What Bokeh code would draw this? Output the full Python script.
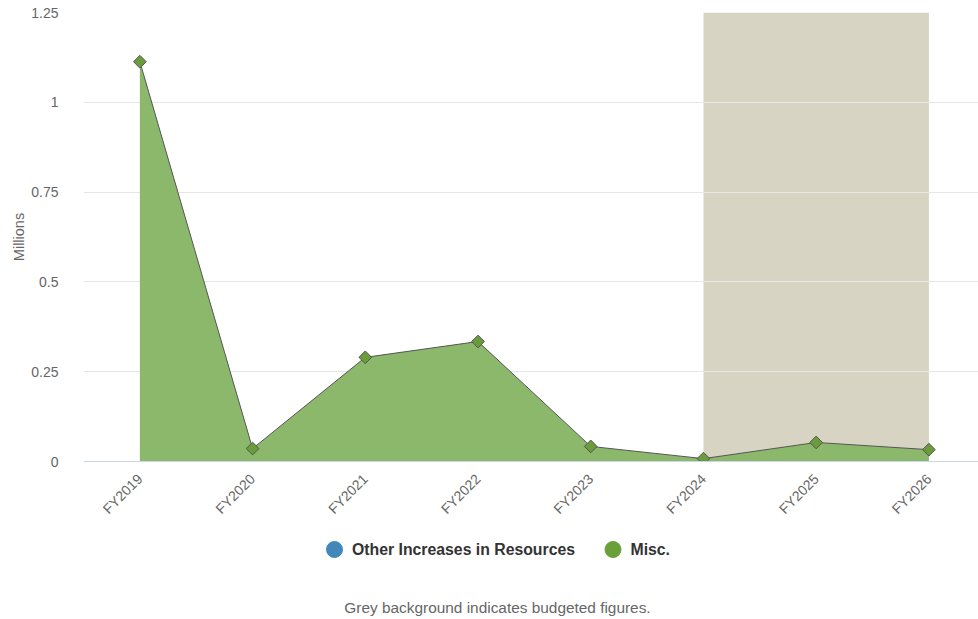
from bokeh.plotting import figure
from bokeh.layouts import column
from bokeh.models import ColumnDataSource, FixedTicker, Range1d
from bokeh.core.properties import value
from bokeh.embed import file_html
from bokeh.resources import INLINE

# ---- data ----
categories = ["FY2019", "FY2020", "FY2021", "FY2022", "FY2023", "FY2024", "FY2025", "FY2026"]
other_increases = [0, 0, 0, 0, 0, 0, 0, 0]
misc = [1.113, 0.036, 0.29, 0.334, 0.042, 0.008, 0.053, 0.033]
budget_start = "FY2024"
budget_end = "FY2026"
y_ticks = [0, 0.25, 0.5, 0.75, 1, 1.25]
y_tick_labels = ["0", "0.25", "0.5", "0.75", "1", "1.25"]
series_names = ["Other Increases in Resources", "Misc."]
series_colors = ["#4287b9", "#6a9f3a"]
caption = "Grey background indicates budgeted figures."

FONT = "Liberation Sans"

idx = list(range(len(categories)))

p = figure(x_range=Range1d(-0.5, 7.44), y_range=(0, 1.25),
           frame_width=895, frame_height=449,
           min_border_left=83, min_border_right=0, min_border_top=12, min_border_bottom=69,
           output_backend="svg", toolbar_location=None)
p.outline_line_color = None
p.background_fill_color = "white"

# budget band (behind the grid lines)
p.quad(left=[categories.index(budget_start)], right=[categories.index(budget_end)],
       bottom=[0], top=[1.25], fill_color="#d8d4c4", line_color=None, level="image")

base = other_increases
top = [b + m for b, m in zip(base, misc)]
src = ColumnDataSource(dict(x=idx, base=base, top=top))
p.varea(x="x", y1="base", y2="top", source=src, fill_color="#8cb86b", fill_alpha=1.0)
p.line(x="x", y="top", source=src, line_color="#555555", line_width=1)
p.scatter(x="x", y="top", source=src, marker="square", size=9, angle=0.785398,
          fill_color="#6a9c3c", line_color="#555555", line_width=1)

# axes
p.yaxis.ticker = FixedTicker(ticks=y_ticks)
p.yaxis.major_label_overrides = {t: l for t, l in zip(y_ticks, y_tick_labels)}
p.yaxis.axis_line_color = None
p.yaxis.major_tick_line_color = None
p.yaxis.minor_tick_line_color = None
p.yaxis.major_label_text_font = FONT
p.yaxis.major_label_text_font_size = "14px"
p.yaxis.major_label_text_color = "#666666"
p.yaxis.major_label_standoff = 19
p.yaxis.axis_label = "Millions"
p.yaxis.axis_label_text_font = FONT
p.yaxis.axis_label_text_font_size = "14.5px"
p.yaxis.axis_label_text_font_style = "normal"
p.yaxis.axis_label_text_color = "#666666"
p.yaxis.axis_label_standoff = 1

p.xaxis.ticker = FixedTicker(ticks=idx)
p.xaxis.major_label_overrides = {i: c for i, c in zip(idx, categories)}
p.xaxis.axis_line_color = "#ccd6eb"
p.xaxis.major_tick_line_color = None
p.xaxis.minor_tick_line_color = None
p.xaxis.major_label_orientation = 0.785398
p.xaxis.major_label_text_font = FONT
p.xaxis.major_label_text_font_size = "14px"
p.xaxis.major_label_text_color = "#666666"
p.xaxis.major_label_standoff = 9

p.xgrid.grid_line_color = None
p.ygrid.grid_line_color = "#e6e6e6"

# ---- legend + caption panel (frame aligned with the chart frame: page x 83..978) ----
q = figure(frame_width=895, frame_height=89, x_range=(83, 978), y_range=(89, 0),
           min_border_left=83, min_border_right=0, min_border_top=0, min_border_bottom=0,
           output_backend="svg", toolbar_location=None)
q.axis.visible = False
q.grid.visible = False
q.outline_line_color = None

leg_x = [334, 612.5]
leg_src = ColumnDataSource(dict(x=leg_x, y=[19, 19], c=series_colors,
                                tx=[x + 17.5 for x in leg_x], name=series_names))
q.scatter(x="x", y="y", source=leg_src, marker="circle", size=16,
          fill_color="c", line_color="c")
q.text(x="tx", y="y", text="name", source=leg_src, text_font=value(FONT),
       text_font_size="15.8px", text_font_style="bold", text_color="#333333",
       text_baseline="middle", text_align="left")
q.text(x=[497], y=[77], text=[caption], text_font=value(FONT),
       text_font_size="15.4px", text_color="#666666",
       text_baseline="middle", text_align="center")

layout = column(p, q, spacing=0)
open("out.html", "w").write(file_html(layout, INLINE))
